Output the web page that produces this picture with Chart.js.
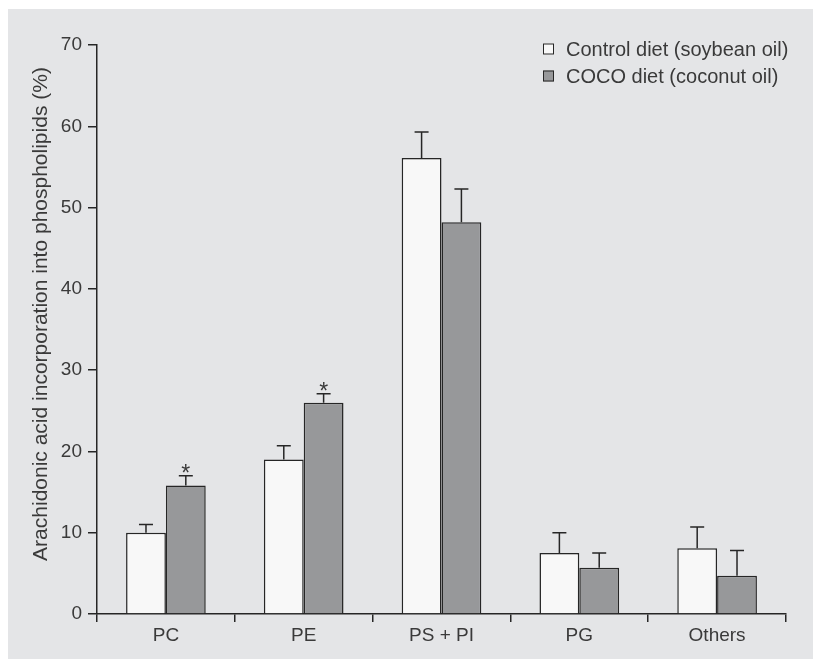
<!DOCTYPE html>
<html>
<head>
<meta charset="utf-8">
<title>Arachidonic acid incorporation</title>
<script src="https://cdn.jsdelivr.net/npm/chart.js@4.4.0/dist/chart.umd.min.js"></script>
<style>
  html, body { margin: 0; padding: 0; background: #fff; }
  #panel { position: absolute; left: 8px; top: 9px; width: 805px; height: 650px; background: #e4e5e7; }
  canvas { display: block; }
</style>
</head>
<body>
<div id="panel"><canvas id="chart" width="805" height="650"></canvas></div>
<script>
const categories = ["PC", "PE", "PS + PI", "PG", "Others"];
const controlValues = [10.0, 19.0, 56.1, 7.5, 8.1];
const controlErrors = [1.0, 1.7, 3.2, 2.5, 2.6];
const cocoValues = [15.8, 26.0, 48.2, 5.7, 4.7];
const cocoErrors = [1.2, 1.1, 4.1, 1.8, 3.1];
const cocoSignificant = [true, true, false, false, false];
const yMin = 0, yMax = 70, yStep = 10;
const yTitle = "Arachidonic acid incorporation into phospholipids (%)";

const textColor = "#3a3a3a";
const axisColor = "#262626";
const fontFamily = "'Liberation Sans', Arial, sans-serif";
const font = { family: fontFamily, size: 19 };

// upward error bars + significance stars
const errorBars = {
  id: "errorBars",
  afterDatasetsDraw(chart) {
    const ctx = chart.ctx;
    const y = chart.scales.y;
    chart.data.datasets.forEach((ds, di) => {
      const meta = chart.getDatasetMeta(di);
      meta.data.forEach((bar, i) => {
        const top = y.getPixelForValue(ds.data[i] + ds.errors[i]);
        ctx.save();
        ctx.strokeStyle = axisColor;
        ctx.lineWidth = 1.5;
        ctx.beginPath();
        ctx.moveTo(bar.x, bar.y);
        ctx.lineTo(bar.x, top);
        ctx.moveTo(bar.x - 7, top);
        ctx.lineTo(bar.x + 7, top);
        ctx.stroke();
        if (ds.stars && ds.stars[i]) {
          ctx.fillStyle = textColor;
          ctx.font = "23px " + fontFamily;
          ctx.textAlign = "center";
          ctx.textBaseline = "alphabetic";
          ctx.fillText("*", bar.x, top + 5);
        }
        ctx.restore();
      });
    });
  }
};

// legend stacked in the top right corner, y axis title
const extras = {
  id: "extras",
  afterDraw(chart) {
    const ctx = chart.ctx;
    ctx.save();
    chart.data.datasets.forEach((ds, i) => {
      const cy = 40 + i * 27;
      ctx.fillStyle = ds.backgroundColor;
      ctx.fillRect(535, cy - 5.5, 11, 11);
      ctx.strokeStyle = axisColor;
      ctx.lineWidth = 1;
      ctx.strokeRect(535.5, cy - 5, 10, 10);
      ctx.fillStyle = textColor;
      ctx.font = "20px " + fontFamily;
      ctx.textAlign = "left";
      ctx.textBaseline = "middle";
      ctx.fillText(ds.label, 558, cy + 1);
    });
    ctx.translate(33, 305);
    ctx.rotate(-Math.PI / 2);
    ctx.fillStyle = textColor;
    ctx.font = "21px " + fontFamily;
    ctx.textAlign = "center";
    ctx.textBaseline = "middle";
    ctx.fillText(yTitle, 0, 0);
    ctx.restore();
  }
};

new Chart(document.getElementById("chart"), {
  type: "bar",
  data: {
    labels: categories,
    datasets: [
      {
        label: "Control diet (soybean oil)",
        data: controlValues,
        errors: controlErrors,
        backgroundColor: "#f8f8f8",
        borderColor: axisColor,
        borderWidth: 1.5
      },
      {
        label: "COCO diet (coconut oil)",
        data: cocoValues,
        errors: cocoErrors,
        stars: cocoSignificant,
        backgroundColor: "#97989a",
        borderColor: axisColor,
        borderWidth: 1.5
      }
    ]
  },
  options: {
    responsive: false,
    animation: false,
    categoryPercentage: 0.578,
    barPercentage: 1.0,
    layout: { padding: { top: 36, right: 27, left: 0, bottom: 0 } },
    plugins: {
      legend: { display: false },
      tooltip: { enabled: false }
    },
    scales: {
      x: {
        grid: { offset: true, drawOnChartArea: false, tickLength: 8, color: axisColor, lineWidth: 1.5 },
        border: { display: true, color: axisColor, width: 1.5 },
        ticks: { padding: 2, color: textColor, font },
        afterFit: (s) => { s.height = 45; }
      },
      y: {
        min: yMin,
        max: yMax,
        ticks: { stepSize: yStep, padding: 6, color: textColor, font },
        grid: { drawOnChartArea: false, tickLength: 9, color: axisColor, lineWidth: 1.5 },
        border: { display: true, color: axisColor, width: 1.5 },
        afterFit: (s) => { s.width = 89; }
      }
    }
  },
  plugins: [errorBars, extras]
});
</script>
</body>
</html>
